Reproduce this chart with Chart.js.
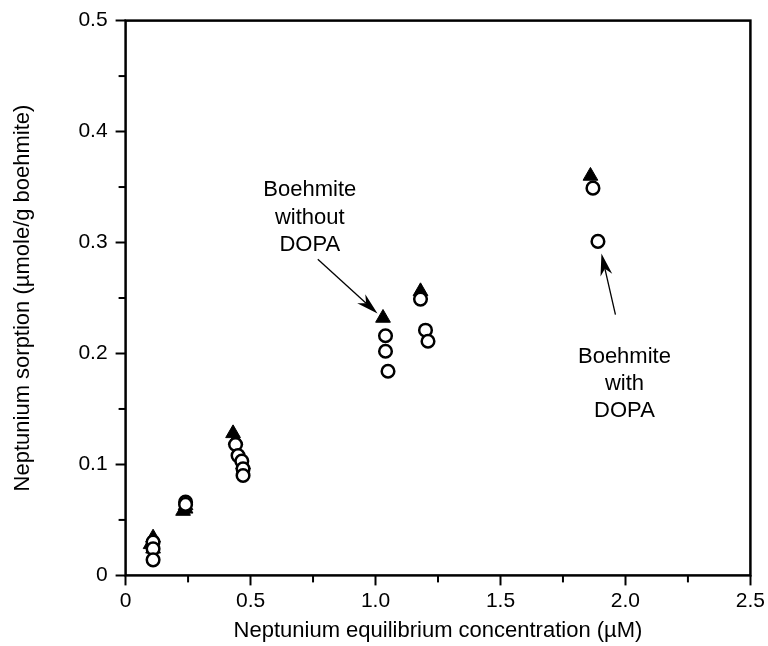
<!DOCTYPE html>
<html>
<head>
<meta charset="utf-8">
<script src="https://cdn.jsdelivr.net/npm/chart.js@4/dist/chart.umd.min.js"></script>
<style>
  html, body { margin: 0; padding: 0; background: #fff; }
  #wrap { width: 768px; height: 646px; }
</style>
</head>
<body>
<div id="wrap"><canvas id="chartSorption"></canvas></div>
<script>
// Boehmite without DOPA (filled triangles)
var noDopaX = [0.11, 0.10, 0.11, 0.24, 0.23, 0.24, 0.43, 0.44, 0.47, 1.03, 1.18, 1.86];
var noDopaY = [0.034, 0.028, 0.024, 0.060, 0.058, 0.063, 0.128, 0.122, 0.100, 0.232, 0.256, 0.360];

// Boehmite with DOPA (open circles)
var dopaX = [0.11, 0.11, 0.11, 0.24, 0.24, 0.44, 0.45, 0.465, 0.47, 0.47, 1.04, 1.04, 1.05, 1.18, 1.20, 1.21, 1.87, 1.89];
var dopaY = [0.030, 0.024, 0.014, 0.066, 0.064, 0.118, 0.108, 0.103, 0.096, 0.090, 0.216, 0.202, 0.184, 0.249, 0.221, 0.211, 0.349, 0.301];

var xTicks = ['0', '0.5', '1.0', '1.5', '2.0', '2.5'];
var yTicks = ['0', '0.1', '0.2', '0.3', '0.4', '0.5'];

var fontFam = '"Liberation Sans", Arial, Helvetica, sans-serif';

function toPoints(xs, ys) {
	var pts = [];
	for (var k = 0; k < xs.length; k++) {
		pts.push({x: xs[k], y: ys[k]});
	}
	return pts;
}

// frame, minor ticks and the two labelled arrows
var decoPlugin = {
	id: 'deco',
	afterDatasetsDraw: function(chart) {
		var c = chart.ctx;
		var a = chart.chartArea;
		var sx = chart.scales.x;
		var sy = chart.scales.y;
		c.save();
		c.strokeStyle = '#000';
		c.lineWidth = 2.5;
		c.strokeRect(a.left, a.top, a.right - a.left, a.bottom - a.top);

		// minor ticks
		c.lineWidth = 2;
		for (var v = 0.25; v < 2.5; v += 0.5) {
			var px = sx.getPixelForValue(v);
			c.beginPath();
			c.moveTo(px, a.bottom);
			c.lineTo(px, a.bottom + 7);
			c.stroke();
		}
		for (var w = 0.05; w < 0.5; w += 0.1) {
			var py = sy.getPixelForValue(w);
			c.beginPath();
			c.moveTo(a.left, py);
			c.lineTo(a.left - 7, py);
			c.stroke();
		}

		// annotations
		c.fillStyle = '#000';
		c.font = '22px ' + fontFam;
		c.textAlign = 'center';
		c.textBaseline = 'middle';
		var t1 = ['Boehmite', 'without', 'DOPA'];
		var t1y = [0.347, 0.322, 0.298];
		for (var i = 0; i < t1.length; i++) {
			c.fillText(t1[i], sx.getPixelForValue(0.737), sy.getPixelForValue(t1y[i]));
		}
		var t2 = ['Boehmite', 'with', 'DOPA'];
		var t2y = [0.197, 0.173, 0.148];
		for (var j = 0; j < t2.length; j++) {
			c.fillText(t2[j], sx.getPixelForValue(1.996), sy.getPixelForValue(t2y[j]));
		}

		drawArrow(c, sx.getPixelForValue(0.769), sy.getPixelForValue(0.285),
			sx.getPixelForValue(1.008), sy.getPixelForValue(0.236));
		drawArrow(c, sx.getPixelForValue(1.96), sy.getPixelForValue(0.235),
			sx.getPixelForValue(1.904), sy.getPixelForValue(0.290));
		c.restore();
	}
};

function drawArrow(c, x0, y0, x1, y1) {
	var ang = Math.atan2(y1 - y0, x1 - x0);
	var len = 22, half = 6;
	c.lineWidth = 1.3;
	c.beginPath();
	c.moveTo(x0, y0);
	c.lineTo(x1 - Math.cos(ang) * len * 0.7, y1 - Math.sin(ang) * len * 0.7);
	c.stroke();
	c.beginPath();
	c.moveTo(x1, y1);
	c.lineTo(x1 - Math.cos(ang) * len - Math.sin(ang) * half, y1 - Math.sin(ang) * len + Math.cos(ang) * half);
	c.lineTo(x1 - Math.cos(ang) * len * 0.7, y1 - Math.sin(ang) * len * 0.7);
	c.lineTo(x1 - Math.cos(ang) * len + Math.sin(ang) * half, y1 - Math.sin(ang) * len - Math.cos(ang) * half);
	c.closePath();
	c.fill();
}

var ctx = document.getElementById('chartSorption').getContext('2d');

var chartSorption = new Chart(ctx, {
	type: 'scatter',
	data: {
		datasets: [
			{
				label: 'Boehmite without DOPA',
				data: toPoints(noDopaX, noDopaY),
				pointStyle: 'triangle',
				pointRadius: 8.5,
				backgroundColor: '#000',
				borderColor: '#000',
				borderWidth: 1,
				order: 2
			},
			{
				label: 'Boehmite with DOPA',
				data: toPoints(dopaX, dopaY),
				pointStyle: 'circle',
				pointRadius: 6.3,
				backgroundColor: '#fff',
				borderColor: '#000',
				borderWidth: 2.5,
				order: 1
			}
		]
	},
	plugins: [decoPlugin],
	options: {
		responsive: true,
		maintainAspectRatio: false,
		animation: false,
		layout: {
			padding: {top: 5, right: 16, left: 10, bottom: 2}
		},
		plugins: {
			legend: {display: false},
			tooltip: {enabled: false}
		},
		scales: {
			x: {
				type: 'linear',
				min: 0,
				max: 2.5,
				border: {display: false},
				grid: {
					drawOnChartArea: false,
					drawTicks: true,
					tickLength: 10,
					tickColor: '#000',
					tickWidth: 2
				},
				ticks: {
					stepSize: 0.5,
					color: '#000',
					padding: 3,
					maxRotation: 0,
					font: {family: fontFam, size: 21},
					callback: function(value, index) { return xTicks[index]; }
				},
				title: {
					display: true,
					text: 'Neptunium equilibrium concentration (\u00b5M)',
					color: '#000',
					padding: {top: 1, bottom: 0},
					font: {family: fontFam, size: 22}
				}
			},
			y: {
				type: 'linear',
				min: 0,
				max: 0.5,
				border: {display: false},
				grid: {
					drawOnChartArea: false,
					drawTicks: true,
					tickLength: 10,
					tickColor: '#000',
					tickWidth: 2
				},
				ticks: {
					stepSize: 0.1,
					color: '#000',
					padding: 8,
					font: {family: fontFam, size: 21},
					callback: function(value, index) { return yTicks[index]; }
				},
				title: {
					display: true,
					text: 'Neptunium sorption (\u00b5mole/g boehmite)',
					color: '#000',
					padding: {top: 0, bottom: 34},
					font: {family: fontFam, size: 22}
				}
			}
		}
	}
});
</script>
</body>
</html>
